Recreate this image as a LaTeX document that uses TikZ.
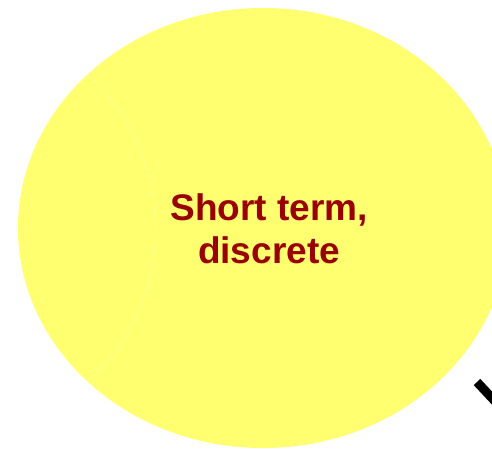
\documentclass[tikz,border=0pt]{standalone}
\usepackage{fontspec}
\setmainfont{Liberation Sans}
\usetikzlibrary{shapes.geometric}
\definecolor{blobyellow}{HTML}{FFFF6F}
\definecolor{labelred}{HTML}{990000}
\tikzset{
  blob/.style={ellipse, fill=blobyellow, draw=none, minimum width=490pt, minimum height=440pt, inner sep=0pt},
  lbl/.style={text=labelred, font=\bfseries\fontsize{37}{43}\selectfont, align=center},
  seam/.style={draw=white!40!blobyellow, line width=0.4pt},
  bar/.style={line width=9pt, black}
}
\begin{document}
\begin{tikzpicture}[x=1pt,y=-1pt]
\useasboundingbox (0,0) rectangle (492,448);
\clip (0,0) rectangle (492,448);
\node[blob] (circ) at (263,228) {};
\node[lbl] (lab) at (269,229) {Short term,\\discrete};
\coordinate (s1) at (88,75);
\coordinate (s2) at (88,381);
\draw[seam] (s1) .. controls (178,160) and (178,300) .. (s2);
\coordinate (b1) at (477,382);
\coordinate (b2) at (505,412);
\draw[bar] (b1) -- (b2);
\end{tikzpicture}
\end{document}
